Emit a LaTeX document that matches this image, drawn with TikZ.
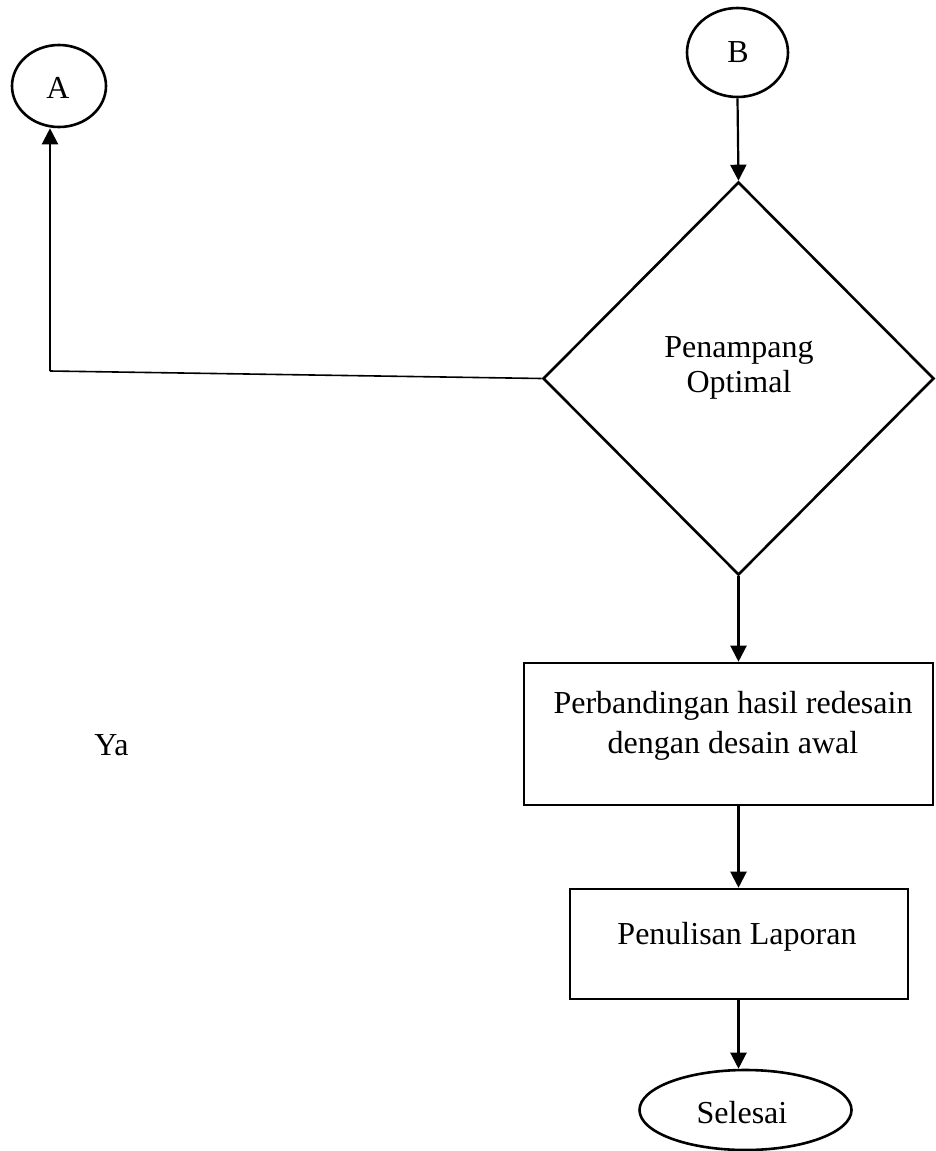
\documentclass[tikz,border=0pt]{standalone}
\usepackage{fontspec}
\setmainfont{Liberation Serif}
\usetikzlibrary{shapes.geometric,arrows.meta}
\begin{document}
\begin{tikzpicture}[x=1pt,y=-1pt,
  shapeline/.style={draw=black, line width=2.6pt, inner sep=0pt},
  conn/.style={draw=black, line width=2.2pt, -{Triangle[length=16pt,width=16pt]}},
  thinconn/.style={draw=black, line width=1.6pt},
  txt/.style={font=\fontsize{32}{36}\selectfont, anchor=base, inner sep=0pt, align=center}]
\useasboundingbox (0,0) rectangle (935,1151);
% shapes
\node[shapeline, ellipse, minimum width=94pt, minimum height=82pt] (A) at (59,86) {};
\node[shapeline, ellipse, minimum width=101pt, minimum height=89pt] (B) at (737.5,52.5) {};
\node[shapeline, diamond, minimum width=391pt, minimum height=393pt] (D) at (738.5,378.5) {};
\node[shapeline, rectangle, minimum width=409pt, minimum height=142pt] (R1) at (728.5,734) {};
\node[shapeline, rectangle, minimum width=338pt, minimum height=110pt] (R2) at (739,944) {};
\node[shapeline, ellipse, minimum width=212pt, minimum height=80pt] (S) at (745.5,1110) {};
% texts
\node[txt] (tA) at (58,98) {A};
\node[txt] (tB) at (738,62) {B};
\node[txt, font=\fontsize{32}{35}\selectfont] (tD) at (739,392) {Penampang\\Optimal};
\node[txt, font=\fontsize{32}{40}\selectfont] (tR1) at (733,753) {Perbandingan hasil redesain\\dengan desain awal};
\node[txt] (tR2) at (737,944) {Penulisan Laporan};
\node[txt] (tS) at (742,1123) {Selesai};
\node[txt] (ya) at (111.5,755) {Ya};
% connectors
\coordinate (corner) at (50,371);
\draw[conn] (B.south) -- (D.north);
\draw[thinconn] (D.west) -- (corner);
\draw[conn] (corner) -- (corner |- A.south);
\draw[conn] (D.south) -- (D.south |- R1.north);
\draw[conn] (D.south |- R1.south) -- (D.south |- R2.north);
\draw[conn] (D.south |- R2.south) -- (D.south |- S.north);
\end{tikzpicture}
\end{document}
